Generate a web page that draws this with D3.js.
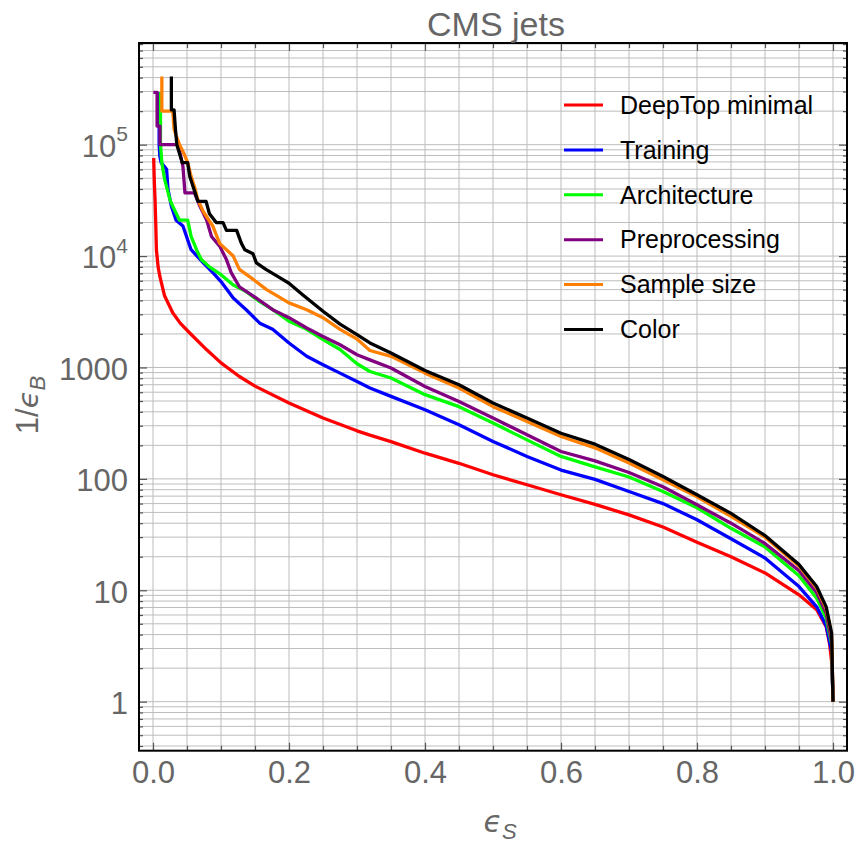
<!DOCTYPE html>
<html><head><meta charset="utf-8">
<script src="https://cdn.jsdelivr.net/npm/d3@7"></script>
<style>
html,body{margin:0;padding:0;background:#fff;}
svg{display:block;}
</style>
</head><body>
<div id="chart"></div>
<script>
// ---------- data ----------
const seriesNames = ["DeepTop minimal","Training","Architecture","Preprocessing","Sample size","Color"];
const seriesColors = ["#ff0000","#0000ff","#00ff00","#800080","#ff8000","#000000"];

const deepTop = [[0.001,76000],[0.002,45000],[0.003,32000],[0.004,20000],[0.005,11400],[0.0075,8000],[0.01,6600],[0.017,4400],[0.029,3100],[0.04,2500],[0.054,2040],[0.079,1440],[0.1,1100],[0.127,830],[0.15,680],[0.2,480],[0.25,352],[0.3,270],[0.319,247],[0.35,216],[0.4,170],[0.45,138],[0.5,109],[0.55,88.5],[0.6,72],[0.65,59],[0.7,47.5],[0.75,37],[0.8,27],[0.85,20],[0.9,14.3],[0.95,9.1],[0.976,6.7],[0.99,4.7],[0.995,3.3],[0.999,2],[1.0,1]];

const training = [[0.009,295000],[0.009,100000],[0.01,79000],[0.012,69000],[0.02,60000],[0.022,40000],[0.027,28000],[0.034,21000],[0.044,18600],[0.056,11400],[0.074,8700],[0.088,7100],[0.1,5900],[0.118,4200],[0.137,3300],[0.157,2500],[0.176,2200],[0.2,1660],[0.226,1260],[0.25,1060],[0.275,890],[0.3,750],[0.319,655],[0.35,550],[0.4,417],[0.45,306],[0.5,217],[0.55,159],[0.6,120],[0.65,99],[0.7,77],[0.75,60],[0.8,43],[0.85,29],[0.9,19.5],[0.95,10.8],[0.976,7.1],[0.99,4.8],[0.998,2.8],[1.0,1]];

const architecture = [[0.011,295000],[0.011,100000],[0.013,69000],[0.017,49000],[0.025,32000],[0.029,28000],[0.039,21000],[0.051,21000],[0.056,15000],[0.064,11400],[0.071,9300],[0.083,8000],[0.1,6800],[0.118,5500],[0.137,4800],[0.157,3900],[0.176,3300],[0.2,2600],[0.226,2200],[0.25,1780],[0.275,1450],[0.3,1080],[0.319,920],[0.35,805],[0.4,570],[0.45,445],[0.5,317],[0.55,224],[0.6,159],[0.65,128],[0.7,104],[0.75,77],[0.8,55],[0.85,36],[0.9,24.5],[0.95,13.5],[0.976,8.5],[0.99,5.6],[0.998,3.3],[1.0,1]];

const preprocessing = [[0.0005,295000],[0.006,295000],[0.006,147000],[0.0103,147000],[0.0103,100000],[0.037,100000],[0.044,64000],[0.047,37000],[0.061,37000],[0.069,28000],[0.079,21000],[0.086,15000],[0.098,12300],[0.108,9300],[0.115,7100],[0.127,5300],[0.147,4400],[0.176,3300],[0.2,2800],[0.226,2260],[0.25,1900],[0.275,1600],[0.3,1300],[0.319,1170],[0.35,990],[0.4,675],[0.45,495],[0.5,352],[0.55,249],[0.6,176],[0.65,145],[0.7,114],[0.75,85],[0.8,58.5],[0.85,40],[0.9,26.3],[0.95,15],[0.976,9.5],[0.99,6.2],[0.998,3.5],[1.0,1]];

const sampleSize = [[0.013,410000],[0.013,200000],[0.029,200000],[0.031,137000],[0.039,100000],[0.046,82000],[0.051,69000],[0.056,52000],[0.061,42000],[0.066,32000],[0.074,25000],[0.088,18600],[0.098,13000],[0.118,10000],[0.127,7600],[0.147,6200],[0.167,5000],[0.2,3800],[0.226,3300],[0.25,2800],[0.275,2200],[0.3,1800],[0.319,1420],[0.35,1260],[0.4,890],[0.45,655],[0.5,445],[0.55,328],[0.6,240],[0.65,190],[0.7,139],[0.75,98],[0.8,69],[0.85,46],[0.9,30],[0.95,16.5],[0.976,10.5],[0.99,6.8],[0.998,4],[1.0,1]];

const color = [[0.027,410000],[0.027,205000],[0.031,205000],[0.033,137000],[0.035,100000],[0.043,69000],[0.051,69000],[0.054,52000],[0.059,42000],[0.066,31000],[0.078,31000],[0.083,24000],[0.093,20000],[0.103,20000],[0.108,17000],[0.123,17000],[0.13,13000],[0.135,11400],[0.147,10500],[0.152,8700],[0.166,7600],[0.19,6200],[0.2,5700],[0.22,4500],[0.25,3200],[0.275,2450],[0.3,1970],[0.319,1660],[0.35,1350],[0.4,940],[0.45,700],[0.5,480],[0.55,352],[0.6,257],[0.65,205],[0.7,149],[0.75,105],[0.8,72],[0.85,49],[0.9,31],[0.95,17],[0.976,10.8],[0.99,7.1],[0.998,4.1],[1.0,1]];

const allSeries = [deepTop, training, architecture, preprocessing, sampleSize, color];

const xMajorTicks = [0, 0.2, 0.4, 0.6, 0.8, 1.0];
const xTickLabels = ["0.0","0.2","0.4","0.6","0.8","1.0"];
const yMajorTicks = [1, 10, 100, 1000, 1e4, 1e5];
const yTickLabels = [["1",""],["10",""],["100",""],["1000",""],["10","4"],["10","5"]];
const titleText = "CMS jets";

// ---------- layout ----------
const W = 859, H = 844;
const L = 139, R = 847, T = 43, B = 750.7;
const svg = d3.select("#chart").append("svg").attr("width", W).attr("height", H);

const x = d3.scaleLinear().domain([-0.0206, 1.0206]).range([L, R]);
const y = d3.scaleLog().domain([0.363, 8.18e5]).range([B, T]);

const labelFont = "'Liberation Sans', Arial, sans-serif";
const grey = "#666";

// gridlines
const xGrid = d3.range(0, 21).map(i => i * 0.05);
const yGrid = [];
for (let k = -1; k <= 5; k++) for (let m = 1; m <= 9; m++) {
  const v = m * Math.pow(10, k);
  if (v >= 0.363 && v <= 8.18e5) yGrid.push(v);
}
const grid = svg.append("g");
grid.selectAll("line.gx").data(xGrid).enter().append("line")
  .attr("x1", d => x(d)).attr("x2", d => x(d)).attr("y1", T).attr("y2", B)
  .attr("stroke", "#bdbdbd").attr("stroke-width", 1);
grid.selectAll("line.gy").data(yGrid).enter().append("line")
  .attr("x1", L).attr("x2", R).attr("y1", d => y(d)).attr("y2", d => y(d))
  .attr("stroke", "#bdbdbd").attr("stroke-width", 1);

// axes ticks
const tickCol = "#555";
function styleAxis(g) {
  g.select(".domain").remove();
  g.selectAll(".tick line").attr("stroke", tickCol).attr("stroke-width", 1.2);
}
const xMinor = xGrid.filter(d => xMajorTicks.every(m => Math.abs(m - d) > 1e-9));
const yMinor = yGrid.filter(d => yMajorTicks.indexOf(d) < 0);

svg.append("g").attr("transform", `translate(0,${B})`)
  .call(d3.axisBottom(x).tickValues(xMinor).tickSize(-5).tickFormat("")).call(styleAxis);
svg.append("g").attr("transform", `translate(0,${T})`)
  .call(d3.axisTop(x).tickValues(xMinor).tickSize(-5).tickFormat("")).call(styleAxis);
svg.append("g").attr("transform", `translate(0,${T})`)
  .call(d3.axisTop(x).tickValues(xMajorTicks).tickSize(-8).tickFormat("")).call(styleAxis);
const xAx = svg.append("g").attr("transform", `translate(0,${B})`)
  .call(d3.axisBottom(x).tickValues(xMajorTicks).tickSize(-8).tickPadding(10)
        .tickFormat((d, i) => xTickLabels[i])).call(styleAxis);
xAx.selectAll("text").attr("font-family", labelFont).attr("font-size", 31).attr("fill", grey)
  .attr("dy", "0.71em");

svg.append("g").attr("transform", `translate(${L},0)`)
  .call(d3.axisLeft(y).tickValues(yMinor).tickSize(-4).tickFormat("")).call(styleAxis);
svg.append("g").attr("transform", `translate(${R},0)`)
  .call(d3.axisRight(y).tickValues(yMinor).tickSize(-4).tickFormat("")).call(styleAxis);
svg.append("g").attr("transform", `translate(${R},0)`)
  .call(d3.axisRight(y).tickValues(yMajorTicks).tickSize(-8).tickFormat("")).call(styleAxis);
const yAx = svg.append("g").attr("transform", `translate(${L},0)`)
  .call(d3.axisLeft(y).tickValues(yMajorTicks).tickSize(-8).tickPadding(11).tickFormat(() => ""))
  .call(styleAxis);
yAx.selectAll(".tick").each(function(d, i) {
  const t = d3.select(this).select("text")
    .attr("font-family", labelFont).attr("font-size", 31).attr("fill", grey)
    .attr("dy", "0.38em").attr("x", -11);
  const [base, sup] = yTickLabels[i];
  if (sup) {
    t.append("tspan").text(base);
    t.append("tspan").text(sup).attr("font-size", 21).attr("dy", "-0.75em");
  } else {
    t.text(base);
  }
});

// curves
svg.append("clipPath").attr("id", "clipArea").append("rect")
  .attr("x", L).attr("y", T).attr("width", R - L).attr("height", B - T);
const line = d3.line().x(d => x(d[0])).y(d => y(d[1]));
svg.append("g").attr("clip-path", "url(#clipArea)")
  .selectAll("path").data(allSeries).enter().append("path")
  .attr("d", line).attr("fill", "none")
  .attr("stroke", (d, i) => seriesColors[i]).attr("stroke-width", 3.3)
  .attr("stroke-linejoin", "round");

// frame
svg.append("rect").attr("x", L).attr("y", T).attr("width", R - L).attr("height", B - T)
  .attr("fill", "none").attr("stroke", "#000").attr("stroke-width", 2);

// legend
const lg = svg.append("g");
seriesNames.forEach((name, i) => {
  const yy = 105 + i * 44.9;
  lg.append("line").attr("x1", 564).attr("x2", 603).attr("y1", yy).attr("y2", yy)
    .attr("stroke", seriesColors[i]).attr("stroke-width", 3);
  lg.append("text").attr("x", 620).attr("y", yy).attr("dy", "0.35em")
    .attr("font-family", labelFont).attr("font-size", 25).attr("fill", "#000").text(name);
});

// title
svg.append("text").attr("x", 496).attr("y", 36).attr("text-anchor", "middle")
  .attr("font-family", labelFont).attr("font-size", 34).attr("fill", grey).text(titleText);

// axis labels
const xl = svg.append("text").attr("x", 500).attr("y", 832).attr("text-anchor", "middle")
  .attr("font-family", labelFont).attr("font-size", 32).attr("fill", grey);
xl.append("tspan").text("\u03F5").attr("font-style", "italic").attr("font-family", "'DejaVu Sans', sans-serif").attr("font-size", 30);
xl.append("tspan").text("S").attr("font-style", "italic").attr("font-size", 22).attr("dy", "0.3em");

const yl = svg.append("text").attr("transform", "translate(38,405) rotate(-90)").attr("text-anchor", "middle")
  .attr("font-family", labelFont).attr("font-size", 31).attr("fill", grey);
yl.append("tspan").text("1/");
yl.append("tspan").text("\u03F5").attr("font-style", "italic").attr("font-family", "'DejaVu Sans', sans-serif").attr("font-size", 29);
yl.append("tspan").text("B").attr("font-style", "italic").attr("font-size", 22).attr("dy", "0.3em");
</script>
</body></html>
